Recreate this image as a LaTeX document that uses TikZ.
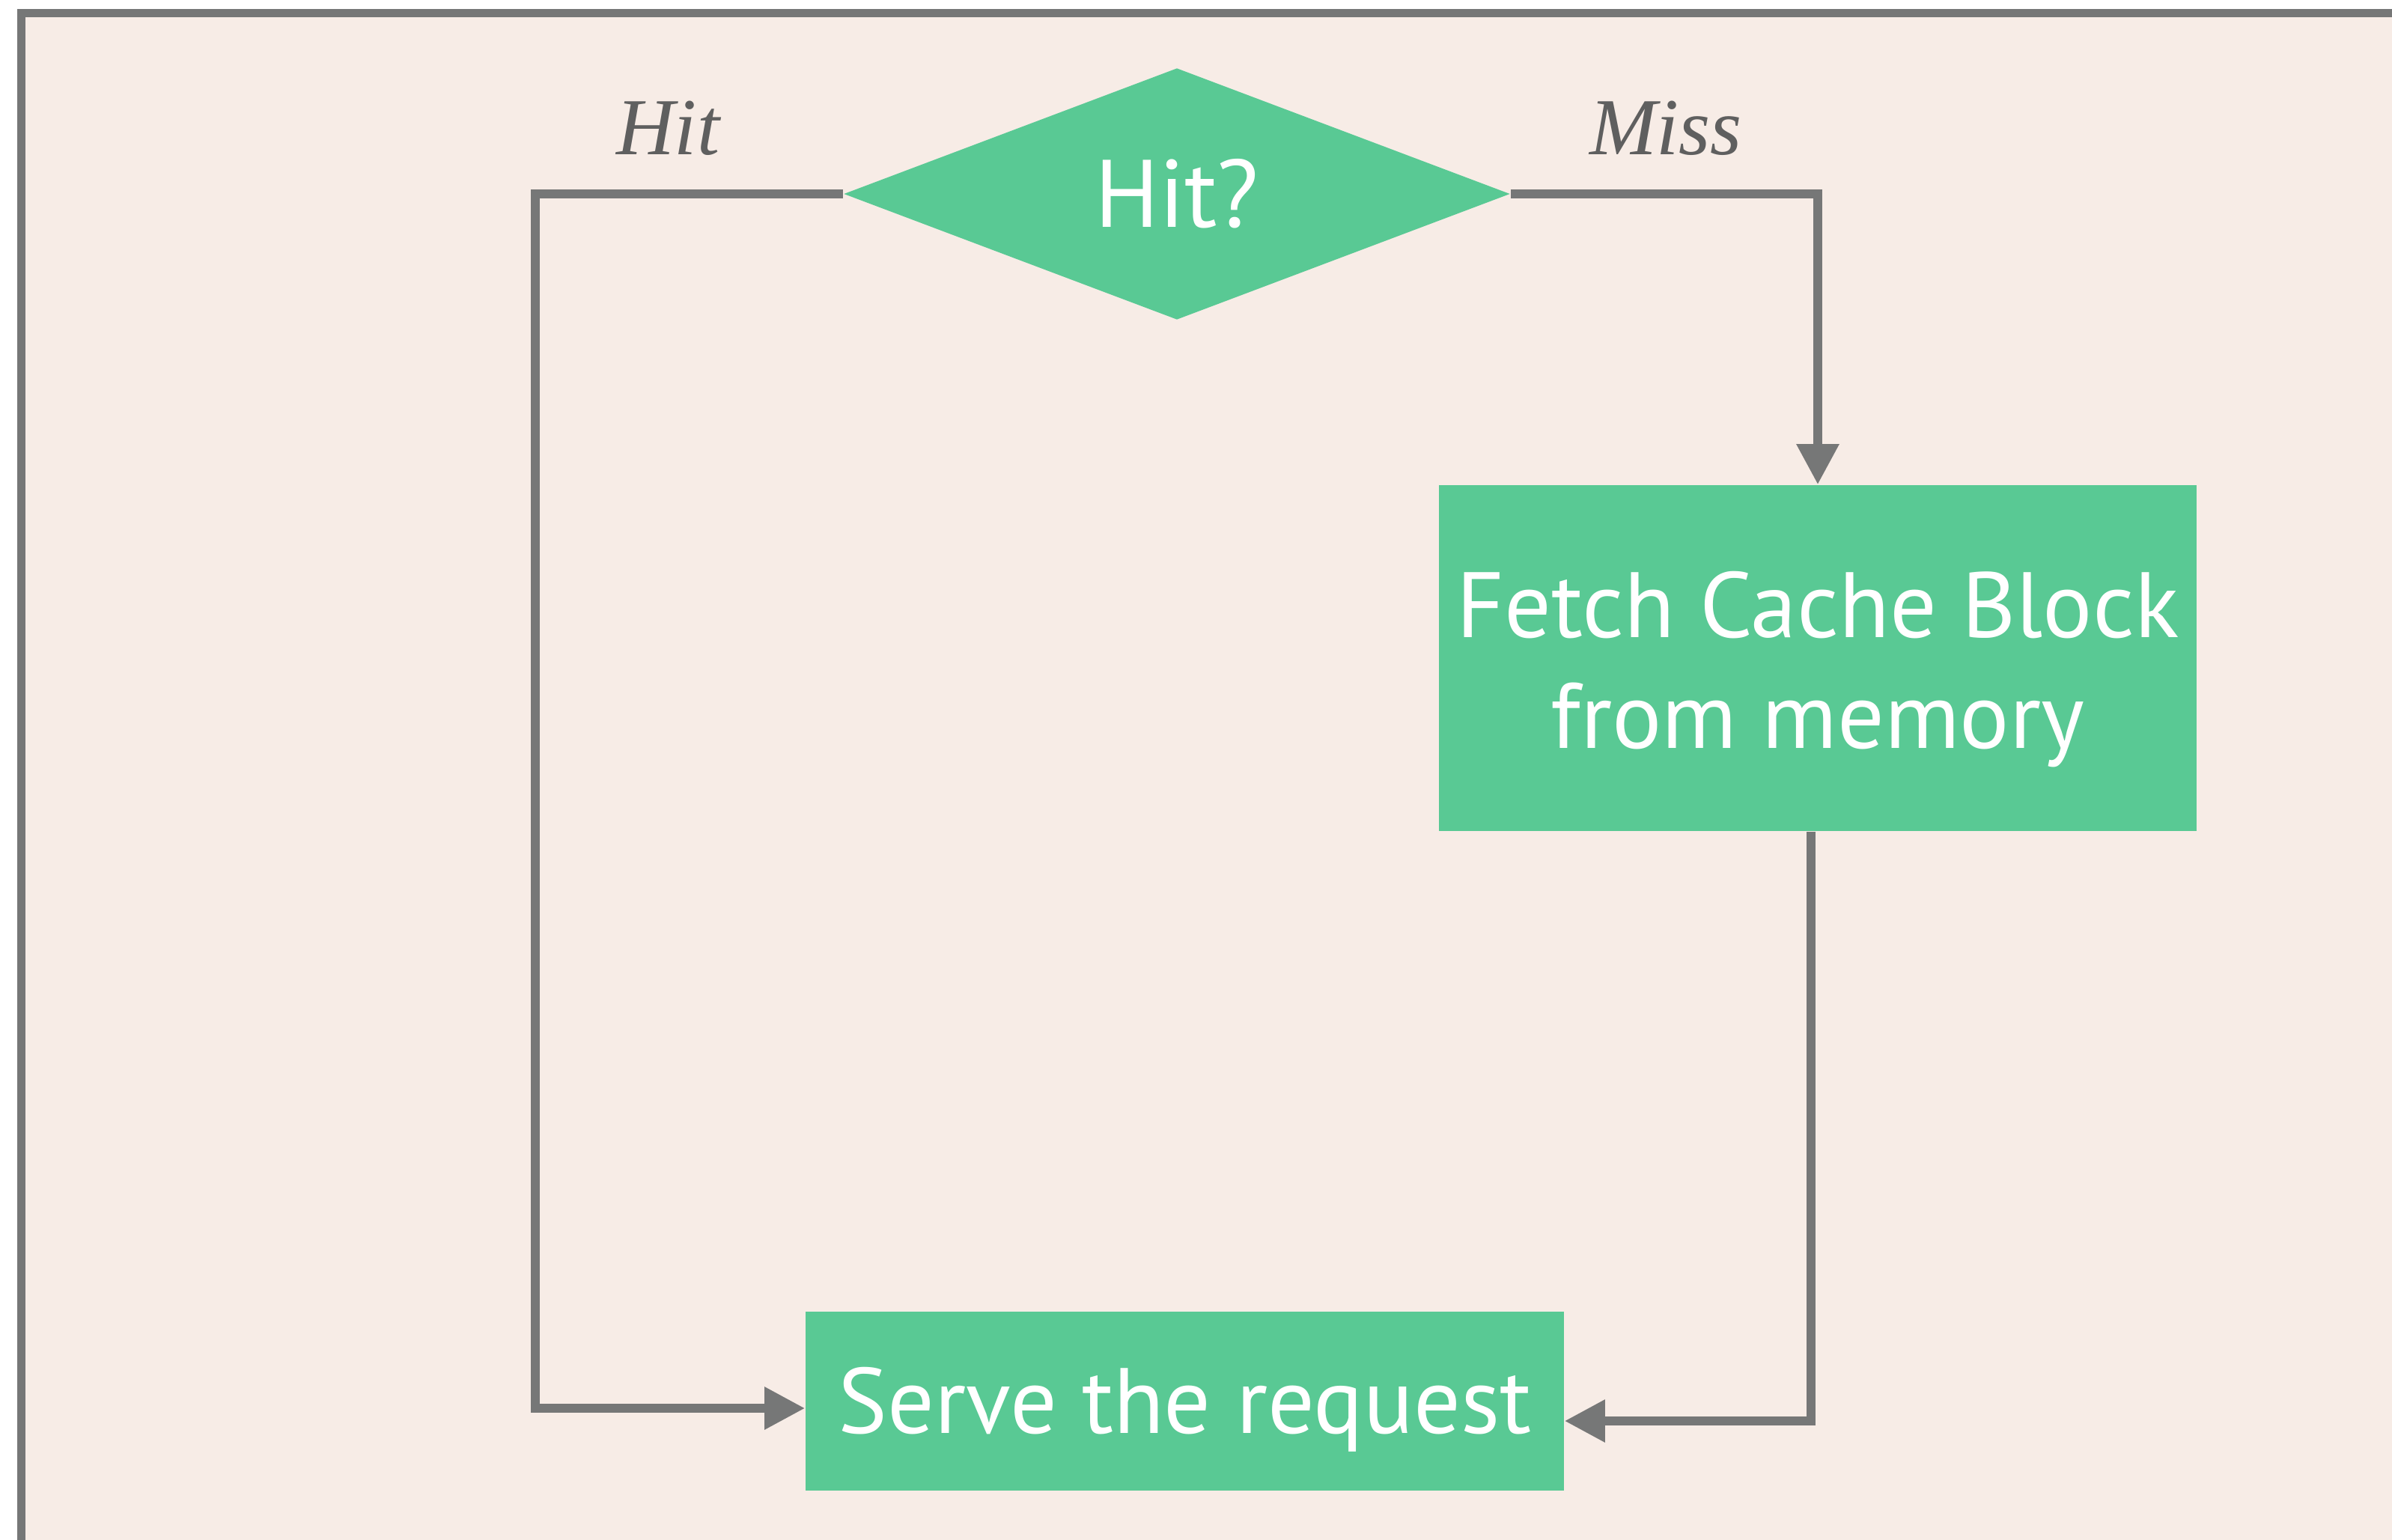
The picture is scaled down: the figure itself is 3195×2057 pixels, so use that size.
\documentclass[tikz,border=0pt]{standalone}
\usepackage{fontspec}
\setmainfont{Liberation Serif}
\newfontfamily\boxfont{PT Sans}
\usetikzlibrary{shapes.geometric,arrows.meta}
\definecolor{paper}{HTML}{F7ECE6}
\definecolor{frame}{HTML}{767777}
\definecolor{boxgreen}{HTML}{59C994}
\definecolor{labelgray}{HTML}{5F5F5F}
\begin{document}
\begin{tikzpicture}[x=0.25pt,y=-0.25pt]
		\tikzset{stepbox/.style = {shape=rectangle, fill=boxgreen, text=white, inner sep=0pt,
				align=center, font=\boxfont\fontsize{31pt}{37pt}\selectfont}}
		\tikzset{decision/.style = {shape=diamond, fill=boxgreen, text=white, inner sep=0pt,
				font=\boxfont\fontsize{32pt}{38pt}\selectfont}}
		\tikzset{edge/.style = {draw=frame, line width=3pt, -{Triangle[length=13.5pt,width=13.5pt]}}}
		\tikzset{answer/.style = {text=labelgray, anchor=base, font=\itshape\fontsize{27pt}{32pt}\selectfont}}
		\useasboundingbox (0,0) rectangle (3195,2057);
		\clip (0,0) rectangle (3195,2057);
		% Background and frame
		\draw[frame, fill=paper, line width=2.75pt] (28,17.5) rectangle (3400,2300);
		% Nodes
		\node[decision, minimum width=222.5pt, minimum height=84pt] (hit) at (1572,259) {Hit?};
		\node[stepbox, minimum width=253pt, minimum height=115.5pt, text height=66.5pt] (fetch) at (2428,879) {Fetch Cache Block\\from memory};
		\node[stepbox, minimum width=253.25pt, minimum height=59.75pt, text height=27.5pt] (serve) at (1582.5,1871.5) {Serve the request};
		\node[answer] (hitlbl) at (892,206) {Hit};
		\node[answer] (misslbl) at (2225,206) {Miss};
		% Connectors
		\coordinate (hitturn) at (715,1881);
		\coordinate (backturn) at (2419,1898);
		\draw[edge] (hit.west) -| (hitturn) -- (serve.west |- hitturn);
		\draw[edge] (hit.east) -| (fetch.north);
		\draw[edge] (fetch.south -| backturn) -- (backturn) -- (serve.east |- backturn);
	\end{tikzpicture}
\end{document}
